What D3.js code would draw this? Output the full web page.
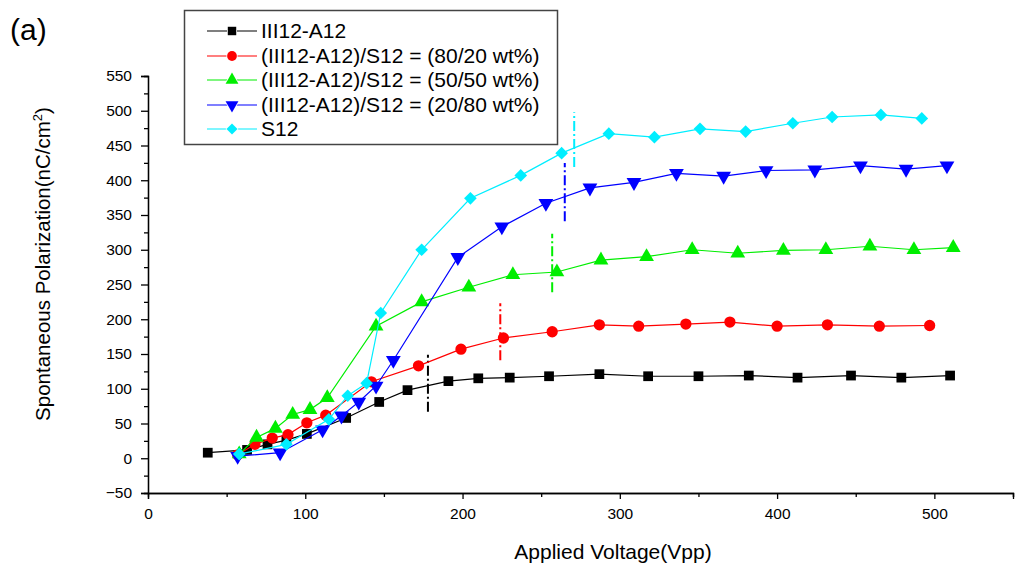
<!DOCTYPE html>
<html><head><meta charset="utf-8">
<script src="https://cdn.jsdelivr.net/npm/d3@7"></script>
<style>body{margin:0;background:#fff}svg{display:block}text{font-family:"Liberation Sans",Arial,sans-serif}</style>
</head><body>
<svg id="c" width="1015" height="570"></svg>
<script>
const seriesNames = ["III12-A12","(III12-A12)/S12 = (80/20 wt%)","(III12-A12)/S12 = (50/50 wt%)","(III12-A12)/S12 = (20/80 wt%)","S12"];
const seriesColors = ["#000000","#ff0000","#00ee00","#0000ff","#00eeff"];
const seriesSymbols = ["square","circle","triangle","triangleDown","diamond"];

const blackX = [38,63,76,88,101,126,147,165,191,210,230,255,287,318,350,382,413,447,479,510];
const blackY = [8,12,20,26,35,58,81,98,111,115,116,118,121,118,118,119,116,119,116,119];
const redX = [57,68,79,89,101,113,142,172,199,226,257,287,312,342,370,400,432,465,497];
const redY = [5,20,29,34,51,62,110,133,157,173,182,192,190,193,196,190,192,190,191];
const greenX = [58,69,81,92,103,114,145,174,204,232,260,288,317,346,375,404,431,459,487,512];
const greenY = [6,30,43,63,70,87,190,225,246,264,268,285,290,300,295,299,300,305,300,303];
const blueX = [57,84,111,123,134,145,156,197,225,253,281,309,336,366,393,424,453,482,508];
const blueY = [3,8,41,61,81,104,141,289,333,367,389,397,410,406,414,415,421,416,421];
const cyanX = [58,88,115,127,139,148,174,205,237,263,293,322,351,380,410,435,466,492];
const cyanY = [6,20,56,90,108,209,300,374,407,439,467,462,474,470,482,491,494,489];

const guideX = [178,224,257,265,271];
const guideLow = [67,141,239,341,419];
const guideHigh = [149,223,323,425,498];

const xTicks = [0,100,200,300,400,500];
const xMinor = [50,150,250,350,450,550];
const yTicks = [-50,0,50,100,150,200,250,300,350,400,450,500,550];
const yMinor = [-25,25,75,125,175,225,275,325,375,425,475,525];

const svg = d3.select("#c");
const x = d3.scaleLinear().domain([0,550]).range([148,1013]);
const y = d3.scaleLinear().domain([-50,550]).range([493,76]);

// axes
const gx = svg.append("g").attr("transform","translate(0,493)");
gx.call(d3.axisBottom(x).tickValues(xMinor).tickSize(4).tickFormat(""));
const gx2 = svg.append("g").attr("transform","translate(0,493)");
gx2.call(d3.axisBottom(x).tickValues(xTicks).tickSize(6).tickPadding(9).tickFormat(d3.format("d")));
const gy = svg.append("g").attr("transform","translate(148,0)");
gy.call(d3.axisLeft(y).tickValues(yMinor).tickSize(4).tickFormat(""));
const gy2 = svg.append("g").attr("transform","translate(148,0)");
gy2.call(d3.axisLeft(y).tickValues(yTicks).tickSize(7).tickPadding(9).tickFormat(d3.format("d")));
svg.selectAll(".domain").attr("stroke","#000").attr("stroke-width",1.3);
svg.selectAll(".tick line").attr("stroke","#000").attr("stroke-width",1.3);
svg.selectAll(".tick text").attr("font-size",15.5).attr("fill","#000").attr("font-family","Liberation Sans, Arial, sans-serif");

// labels
svg.append("text").attr("x",613).attr("y",559).attr("text-anchor","middle").attr("font-size",21).text("Applied Voltage(Vpp)");
const yl = svg.append("text").attr("transform","translate(50,264) rotate(-90)").attr("text-anchor","middle").attr("font-size",20.5);
yl.append("tspan").text("Spontaneous Polarization(nC/cm");
yl.append("tspan").attr("font-size",13).attr("dy",-8).text("2");
yl.append("tspan").attr("dy",8).text(")");
svg.append("text").attr("x",10).attr("y",40).attr("font-size",30).text("(a)");

function sym(kind, size){
  if(kind==="square") return {p:d3.symbol(d3.symbolSquare,size)(), r:0};
  if(kind==="circle") return {p:d3.symbol(d3.symbolCircle,size)(), r:0};
  if(kind==="triangle") return {p:d3.symbol(d3.symbolTriangle,size)(), r:0};
  if(kind==="triangleDown") return {p:d3.symbol(d3.symbolTriangle,size)(), r:180};
  return {p:d3.symbol(d3.symbolSquare,size)(), r:45};
}
const sizes = {square:95, circle:100, triangle:95, triangleDown:95, diamond:80};

// guide dash-dot lines
const guideCols = ["#000000","#ff0000","#00ee00","#0000ff","#00eeff"];
guideX.forEach((gxv,i)=>{
  svg.append("line").attr("x1",x(gxv)).attr("x2",x(gxv)).attr("y1",y(guideLow[i])).attr("y2",y(guideHigh[i]))
    .attr("stroke",guideCols[i]).attr("stroke-width",2).attr("stroke-dasharray","10,3,2,3");
});

const allX = [blackX,redX,greenX,blueX,cyanX];
const allY = [blackY,redY,greenY,blueY,cyanY];
const line = d3.line().x(d=>x(d[0])).y(d=>y(d[1]));
allX.forEach((xs,i)=>{
  const pts = xs.map((v,j)=>[v,allY[i][j]]);
  const g = svg.append("g");
  g.append("path").attr("d",line(pts)).attr("fill","none").attr("stroke",seriesColors[i]).attr("stroke-width",1.2);
  const s = sym(seriesSymbols[i], sizes[seriesSymbols[i]]);
  g.selectAll("path.m").data(pts).enter().append("path").attr("class","m")
    .attr("d",s.p).attr("fill",seriesColors[i])
    .attr("transform",d=>`translate(${x(d[0])},${y(d[1])}) rotate(${s.r})`);
});

// legend
const lg = svg.append("g");
lg.append("rect").attr("x",184.5).attr("y",10.5).attr("width",373).attr("height",134).attr("fill","#fff").attr("stroke","#444").attr("stroke-width",1.5);
const rowY = [31,56,80,105,129];
seriesNames.forEach((n,i)=>{
  lg.append("line").attr("x1",207).attr("x2",257).attr("y1",rowY[i]).attr("y2",rowY[i]).attr("stroke",seriesColors[i]).attr("stroke-width",1.2);
  const s = sym(seriesSymbols[i], sizes[seriesSymbols[i]]*0.75);
  lg.append("path").attr("d",s.p).attr("fill",seriesColors[i]).attr("stroke","#fff").attr("stroke-width",1.5).attr("paint-order","stroke")
    .attr("transform",`translate(232,${rowY[i]}) rotate(${s.r})`);
  lg.append("text").attr("x",261).attr("y",rowY[i]+7).attr("font-size",21).text(n);
});
</script>
</body></html>
